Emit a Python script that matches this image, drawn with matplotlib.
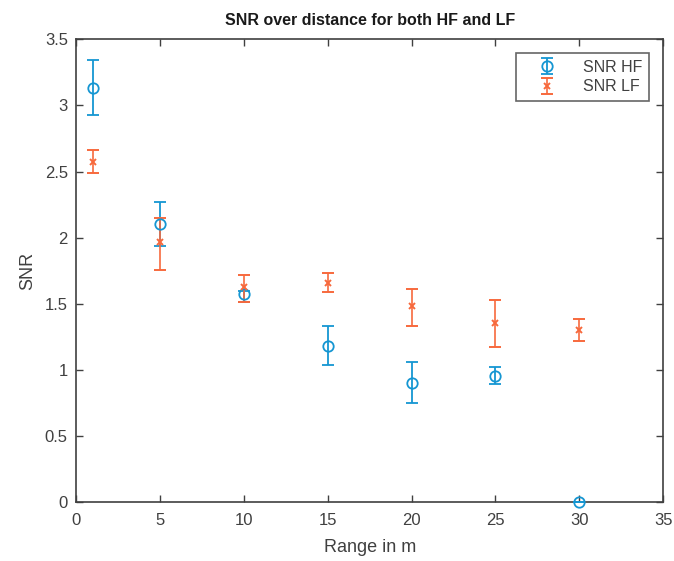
import matplotlib.pyplot as plt
import numpy as np

plt.rcParams['font.family'] = ['Liberation Sans', 'DejaVu Sans']

# data
ranges = [1, 5, 10, 15, 20, 25, 30]
snr_hf = [3.13, 2.10, 1.57, 1.18, 0.90, 0.955, 0.0]
hf_low = [2.93, 1.935, 1.51, 1.04, 0.75, 0.89, 0.0]
hf_high = [3.34, 2.27, 1.60, 1.33, 1.06, 1.02, 0.0]
snr_lf = [2.57, 1.965, 1.63, 1.66, 1.48, 1.355, 1.30]
lf_low = [2.485, 1.755, 1.51, 1.59, 1.33, 1.17, 1.22]
lf_high = [2.66, 2.15, 1.72, 1.73, 1.61, 1.53, 1.385]

blue = '#1596d2'
orange = '#f7693d'
dark = '#404040'

fig = plt.figure(figsize=(6.74, 5.61), dpi=100)
ax = fig.add_axes([0.113, 0.105, 0.871, 0.825])

hf = np.array(snr_hf)
lf = np.array(snr_lf)
hf_err = [hf - np.array(hf_low), np.array(hf_high) - hf]
lf_err = [lf - np.array(lf_low), np.array(lf_high) - lf]

ax.errorbar(ranges, snr_hf, yerr=hf_err, fmt='o', color=blue, mfc='none',
            ms=7.5, mew=1.3, elinewidth=1.3, capsize=4.5, capthick=1.3,
            label='SNR HF', clip_on=False, zorder=3)
ax.errorbar(ranges, snr_lf, yerr=lf_err, fmt='x', color=orange,
            ms=5, mew=1.4, elinewidth=1.2, capsize=4.5, capthick=1.2,
            label='SNR LF', clip_on=False, zorder=3)

ax.set_xlim(0, 35)
ax.set_ylim(0, 3.5)
ax.set_xticks(range(0, 36, 5))
ax.set_yticks(np.arange(0, 3.51, 0.5))
ax.set_yticklabels(['0', '0.5', '1', '1.5', '2', '2.5', '3', '3.5'])

ax.tick_params(direction='in', top=True, right=True, length=5, width=1,
               color=dark, labelcolor=dark, labelsize=12)
ax.tick_params(axis='x', pad=8)
ax.tick_params(axis='y', pad=6)
for s in ax.spines.values():
    s.set_color(dark)
    s.set_linewidth(1.2)

ax.set_xlabel('Range in m', fontsize=13, color=dark, labelpad=8)
ax.set_ylabel('SNR', fontsize=13, color=dark, labelpad=6)
ax.set_title('SNR over distance for both HF and LF', fontsize=11.5,
             fontweight='bold', color='#1a1a1a', pad=10)

leg = ax.legend(loc='upper right', bbox_to_anchor=(0.976, 0.970),
                fontsize=11.5, frameon=True, fancybox=False,
                edgecolor=dark, borderpad=0.4, handlelength=3.0,
                borderaxespad=0, labelspacing=0.3)
leg.get_frame().set_linewidth(1.2)
for t in leg.get_texts():
    t.set_color(dark)

fig.savefig('out.png', dpi=100)
